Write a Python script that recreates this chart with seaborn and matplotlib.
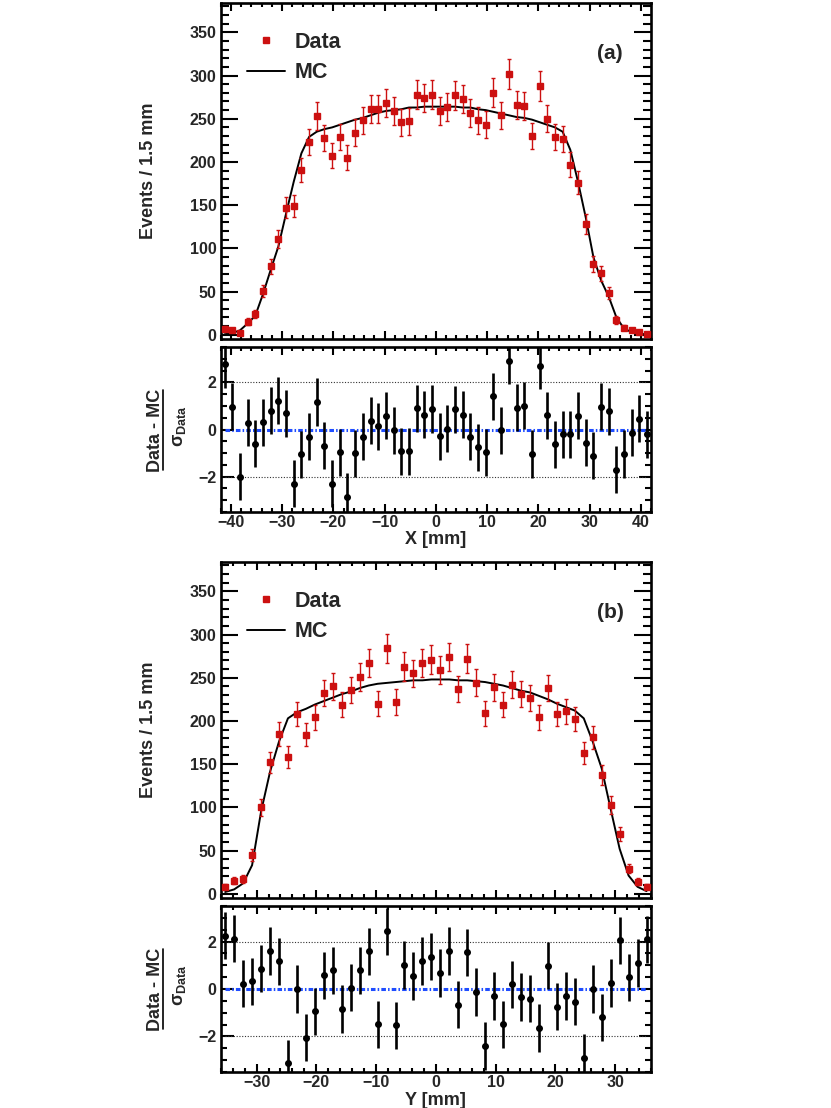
import numpy as np
import matplotlib
matplotlib.use("Agg")
import matplotlib.pyplot as plt
import seaborn as sns
from matplotlib.ticker import MultipleLocator
from matplotlib.lines import Line2D

# ---------------- data ----------------
bin_width = 1.5
x_range = (-42.0, 42.0)
y_range = (-36.0, 36.0)

data_x = [7, 5, 2, 15, 24, 51, 79, 111, 147, 149, 191, 223, 253, 228, 207, 229,
          205, 234, 248, 261, 261, 268, 259, 246, 247, 278, 274, 278, 259, 264,
          277, 273, 257, 248, 243, 280, 254, 302, 266, 265, 230, 288, 250, 229,
          227, 197, 176, 128, 82, 71, 48, 17, 8, 5, 3, 1]
mc_x = [0.5, 2, 5, 13, 22, 47, 75, 102, 140, 177, 210, 229, 235, 238, 240, 243,
        246, 249, 251, 254, 257, 259, 260, 261, 263, 263, 264, 264, 264, 264,
        264, 263, 263, 261, 260, 258, 256, 254, 252, 251, 249, 246, 243, 240,
        235, 214, 177, 136, 90, 63, 44, 20, 7, 3, 1, 0.5]
resid_x = [2.77, 0.97, -2.01, 0.28, -0.61, 0.30, 0.79, 1.23, 0.69, -2.30, -1.06,
           -0.30, 1.17, -0.68, -2.30, -0.97, -2.86, -1.01, -0.30, 0.37, 0.14,
           0.58, -0.03, -0.92, -0.93, 0.90, 0.63, 0.87, -0.28, 0.04, 0.85, 0.62,
           -0.30, -0.75, -0.97, 1.41, -0.03, 2.92, 0.93, 1.01, -1.04, 2.70, 0.61,
           -0.62, -0.21, -0.21, 0.58, -0.56, -1.11, 0.96, 0.77, -1.70, -1.04,
           -0.13, 0.45, -0.21]

data_y = [8, 15, 17, 45, 100, 152, 185, 158, 208, 184, 204, 232, 240, 219, 236,
          251, 267, 220, 284, 222, 263, 255, 267, 271, 259, 274, 237, 272, 244,
          209, 239, 219, 242, 231, 227, 204, 238, 208, 211, 202, 163, 181, 137,
          103, 69, 29, 14, 8]
mc_y = [2, 5, 12, 33, 95, 141, 176, 203, 210, 214, 219, 223, 227, 231, 234, 238,
        241, 243, 244, 245, 246, 247, 247, 248, 248, 248, 247, 247, 246, 245,
        243, 241, 238, 235, 233, 229, 225, 220, 216, 212, 203, 176, 145, 98, 52,
        21, 8, 3]
resid_y = [2.25, 2.12, 0.22, 0.32, 0.86, 1.60, 1.16, -3.14, 0.0, -2.05, -0.94,
           0.58, 0.79, -0.84, 0.06, 0.79, 1.59, -1.49, 2.43, -1.53, 1.01, 0.55,
           1.18, 1.36, 0.67, 1.60, -0.66, 1.54, -0.13, -2.40, -0.29, -1.49, 0.20,
           -0.34, -0.41, -1.64, 0.98, -0.74, -0.29, -0.53, -2.89, 0.0, -1.19,
           0.25, 2.05, 0.49, 1.09, 2.09]

# ---------------- style ----------------
sns.set_theme(style="ticks")
plt.rcParams["font.family"] = ["Liberation Sans", "DejaVu Sans"]
plt.rcParams["font.weight"] = "bold"
plt.rcParams["axes.labelweight"] = "bold"
plt.rcParams["mathtext.fontset"] = "custom"
plt.rcParams["mathtext.rm"] = "Liberation Sans:bold"
plt.rcParams["mathtext.bf"] = "Liberation Sans:bold"
plt.rcParams["mathtext.it"] = "Liberation Sans"
plt.rcParams["mathtext.sf"] = "Liberation Sans:bold"

RED = "#cc1010"
BLUE = "#1f4dff"
FW, FH = 831.0, 1108.0

fig = plt.figure(figsize=(8.31, 11.08), dpi=100)
L, W = 0.2656, 0.5178
ax_a = fig.add_axes([L, 0.694, W, 0.3033])
ax_ar = fig.add_axes([L, 0.5379, W, 0.1489])
ax_b = fig.add_axes([L, 0.1895, W, 0.3033])
ax_br = fig.add_axes([L, 0.0325, W, 0.1498])


def centers(rng, n):
    return rng[0] + bin_width / 2 + bin_width * np.arange(n)


def style_axes(ax, ymaj, ymin_, ylen):
    for s in ax.spines.values():
        s.set_linewidth(1.9)
        s.set_color("black")
    ax.xaxis.set_major_locator(MultipleLocator(10))
    ax.xaxis.set_minor_locator(MultipleLocator(2))
    ax.yaxis.set_major_locator(MultipleLocator(ymaj))
    ax.yaxis.set_minor_locator(MultipleLocator(ymin_))
    ax.tick_params(which="both", direction="in", top=True, right=True,
                   width=1.5, color="black", labelsize=11.5, pad=3)
    ax.tick_params(axis="x", pad=2)
    ax.tick_params(axis="y", which="major", length=ylen)
    ax.tick_params(axis="y", which="minor", length=ylen / 2)
    ax.tick_params(axis="x", which="major", length=6)
    ax.tick_params(axis="x", which="minor", length=3)
    for lab in ax.get_xticklabels() + ax.get_yticklabels():
        lab.set_fontweight("bold")


def draw_main(ax, rng, data, mc, tag):
    c = centers(rng, len(data))
    d = np.array(data, dtype=float)
    ax.errorbar(c, d, yerr=np.sqrt(d), fmt="s", color=RED, ms=5,
                elinewidth=1.0, capsize=1.2, capthick=1.0, zorder=3)
    sns.lineplot(x=c, y=mc, ax=ax, color="black", lw=1.4, sort=False,
                 estimator=None, zorder=2)
    ax.set_xlim(*rng)
    ax.set_ylim(-5, 384)
    style_axes(ax, 50, 10, 12)
    ax.tick_params(labelbottom=False)
    ax.set_ylabel("Events / 1.5 mm", fontsize=13, fontweight="bold")
    ax.yaxis.set_label_coords(-0.148, 0.5)
    handles = [Line2D([], [], marker="s", ls="none", color=RED, ms=5),
               Line2D([], [], color="black", lw=1.4)]
    ax.legend(handles, ["Data", "MC"], loc="upper left",
              bbox_to_anchor=(0.061, 0.915), frameon=False,
              borderaxespad=0, borderpad=0, handlelength=1.75,
              handletextpad=0.45, labelspacing=0.45,
              prop={"family": "Liberation Sans", "weight": "bold",
                    "size": 15.5})
    ax.text(0.905, 0.851, tag, transform=ax.transAxes, ha="center",
            va="center", fontsize=15, fontweight="bold")


def resid_label(yc):
    # fraction "Data - MC" over sigma_Data, rotated, centred at pixel row yc
    fig.text(155 / FW, 1 - yc / FH, "Data - MC", rotation=90, ha="center",
             va="center", fontsize=13, fontweight="bold")
    fig.add_artist(Line2D([163 / FW, 163 / FW],
                          [1 - (yc - 40) / FH, 1 - (yc + 40) / FH],
                          color="black", lw=1.2, transform=fig.transFigure))
    fig.text(179 / FW, 1 - (yc - 4) / FH, r"$\sigma_{\mathbf{Data}}$",
             rotation=90, ha="center", va="center", fontsize=13)


def draw_resid(ax, rng, resid, xlabel):
    c = centers(rng, len(resid))
    ax.plot([c[0], c[-1]], [2, 2], ls=(0, (1, 1.5)), color="#333333", lw=0.8,
            zorder=1)
    ax.plot([c[0], c[-1]], [-2, -2], ls=(0, (1, 1.5)), color="#333333", lw=0.8,
            zorder=1)
    ax.plot([c[0], c[-1]], [0, 0], ls=(0, (1.5, 0.7, 0.5, 0.7)), color=BLUE,
            lw=2.2, zorder=2)
    ax.errorbar(c, resid, yerr=1.0, fmt="o", color="black", ms=4,
                elinewidth=1.9, capsize=0, zorder=3)
    ax.set_xlim(*rng)
    ax.set_ylim(-3.5, 3.5)
    style_axes(ax, 2, 0.5, 9)
    ax.set_xlabel(xlabel, fontsize=13, fontweight="bold")
    ax.xaxis.set_label_coords(0.5, -0.118)


draw_main(ax_a, x_range, data_x, mc_x, "(a)")
draw_resid(ax_ar, x_range, resid_x, "X [mm]")
resid_label(430)
draw_main(ax_b, y_range, data_y, mc_y, "(b)")
draw_resid(ax_br, y_range, resid_y, "Y [mm]")
resid_label(989)

fig.savefig("out.png", dpi=100)
